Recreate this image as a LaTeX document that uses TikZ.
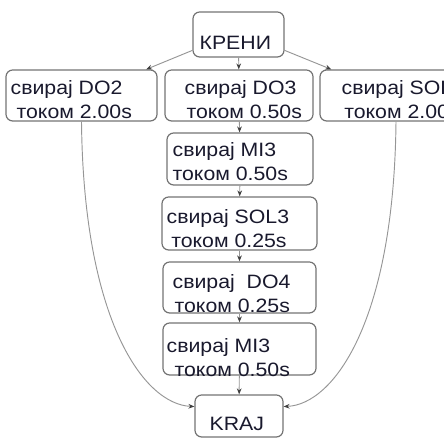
\documentclass[tikz,border=0pt]{standalone}
\usepackage{fontspec}
\setmainfont{Liberation Sans}[FakeStretch=1.1]
\usetikzlibrary{arrows.meta,fit}
\definecolor{tinta}{RGB}{25,25,45}
\definecolor{okvir}{RGB}{115,115,115}
\definecolor{linija}{RGB}{150,150,150}
\tikzset{
  kut/.style={draw=okvir, line width=0.9pt, rounded corners=5pt, inner sep=0pt},
  tekst/.style={inner sep=0pt, anchor=base west, align=left, text=tinta,
    font=\fontsize{14.5}{18}\selectfont},
  veza/.style={draw=linija, line width=0.7pt,
    -{Stealth[length=4.5pt,width=3.5pt,color=black!75]}}
}
\newcommand{\kutija}[8]{
  \node[kut, fit={(#2,#3) (#4,#5)}] (#1) {};
  \node[tekst] (#1t) at ([shift={(#6,#7)}]#1.north west) {#8};
}

\begin{document}
\begin{tikzpicture}[x=0.75pt,y=-0.75pt]
\clip (0,0) rectangle (444,438);
\kutija{kreni}{193}{12}{284}{57}{7}{38}{КРЕНИ}
\kutija{do2}{6}{70}{157}{121}{5}{49}{свирај DO2\\\hspace*{4.5pt}током 2.00s}
\kutija{do3}{165}{70}{313}{121}{20}{49}{свирај DO3\\\hspace*{1.5pt}током 0.50s}
\kutija{sol}{320}{70}{472}{121}{22}{49}{свирај SOL2\\\hspace*{2pt}током 2.00s}
\kutija{mi3}{167}{133}{313}{185}{6}{48}{свирај MI3\\током 0.50s}
\kutija{sol3}{162}{197}{317}{250}{5}{51}{свирај SOL3\\\hspace*{3.5pt}током 0.25s}
\kutija{do4}{163}{262}{316}{313}{10}{51}{свирај\ \ DO4\\\hspace*{1.5pt}током 0.25s}
\kutija{mi3b}{163}{323}{316}{375}{4}{54}{свирај MI3\\\hspace*{6pt}током 0.50s}
\kutija{kraj}{195}{395}{283}{437}{15}{36}{KRAJ}
\foreach \a/\b in {kreni/do3, do3/mi3, mi3/sol3, sol3/do4, do4/mi3b, mi3b/kraj}
  \draw[veza] (\a) -- (\b);
\draw[veza] (kreni.-161) -- (do2.22);
\draw[veza] (kreni.-19) -- (sol.158);
\draw[veza] (do2.south) .. controls +(2,200) and +(-50,-2) .. (kraj.168);
\draw[veza] (sol.south) .. controls +(-2,200) and +(50,-2) .. (kraj.12);
\end{tikzpicture}
\end{document}
